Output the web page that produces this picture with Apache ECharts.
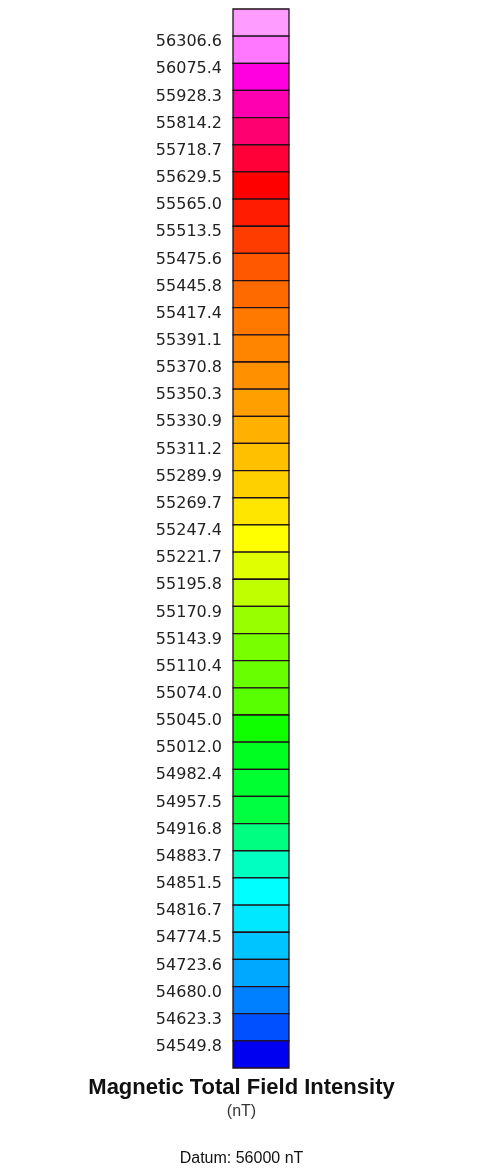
<!DOCTYPE html>
<html><head><meta charset="utf-8">
<script src="https://cdn.jsdelivr.net/npm/echarts@6/dist/echarts.min.js"></script>
<style>html,body{margin:0;padding:0;background:#fff}#c{width:483px;height:1175px}</style>
</head><body><div id="c"></div>
<script>
// Class boundary values (nT), top to bottom
const boundaryLabels = [56306.6, 56075.4, 55928.3, 55814.2, 55718.7, 55629.5, 55565.0, 55513.5,
  55475.6, 55445.8, 55417.4, 55391.1, 55370.8, 55350.3, 55330.9, 55311.2, 55289.9, 55269.7,
  55247.4, 55221.7, 55195.8, 55170.9, 55143.9, 55110.4, 55074.0, 55045.0, 55012.0, 54982.4,
  54957.5, 54916.8, 54883.7, 54851.5, 54816.7, 54774.5, 54723.6, 54680.0, 54623.3, 54549.8];
// Colour of each class box, top to bottom
const boxColors = ['#ff9cff','#ff78ff','#ff00e0','#ff00b0','#ff0070','#ff0038','#ff0000','#ff1c00',
  '#ff3c00','#ff5800','#ff6a00','#ff7800','#ff8400','#ff9000','#ffa000','#ffb000','#ffc000','#ffd000',
  '#ffe600','#ffff00','#e0ff00','#c0ff00','#98ff00','#78ff00','#68ff00','#58ff00','#10ff00','#00ff20',
  '#00ff30','#00ff40','#00ff80','#00ffc0','#00ffff','#00e8ff','#00c4ff','#00a8ff','#0080ff','#0050ff','#0000f0'];
const titleText = 'Magnetic Total Field Intensity';
const unitText = '(nT)';
const datumText = 'Datum: 56000 nT';

const chart = echarts.init(document.getElementById('c'), null, {renderer: 'canvas'});
chart.setOption({
  animation: false,
  backgroundColor: '#ffffff',
  grid: {left: 233, top: 9, width: 56, height: 1059},
  xAxis: {type: 'value', min: 0, max: 1, show: false},
  yAxis: {
    type: 'value', min: 0, max: boxColors.length, interval: 1, inverse: true,
    axisLine: {show: false}, axisTick: {show: false}, splitLine: {show: false},
    axisLabel: {
      formatter: v => (v >= 1 && v <= boundaryLabels.length) ? boundaryLabels[v - 1].toFixed(1) : '',
      color: '#222', fontFamily: 'DejaVu Sans', fontSize: 16, margin: 11,
      verticalAlign: 'top', lineHeight: 12
    }
  },
  series: [{
    type: 'custom',
    data: boxColors.map((c, i) => [0, i]),
    encode: {x: 0, y: 1},
    renderItem: (params, api) => {
      const i = api.value(1);
      const p0 = api.coord([0, i]);
      const p1 = api.coord([1, i + 1]);
      return {
        type: 'rect',
        shape: {x: p0[0], y: p0[1], width: p1[0] - p0[0], height: p1[1] - p0[1]},
        style: {fill: boxColors[i], stroke: '#201018', lineWidth: 1.3}
      };
    }
  }],
  graphic: [
    {type: 'text', left: 'center', top: 1077, style: {text: titleText, font: 'bold 22px "Liberation Sans", Arial, sans-serif', fill: '#111'}},
    {type: 'text', left: 'center', top: 1104, style: {text: unitText, font: '16px "Liberation Sans", Arial, sans-serif', fill: '#333'}},
    {type: 'text', left: 'center', top: 1151, style: {text: datumText, font: '16px "Liberation Sans", Arial, sans-serif', fill: '#111'}}
  ]
});
</script>
</body></html>
